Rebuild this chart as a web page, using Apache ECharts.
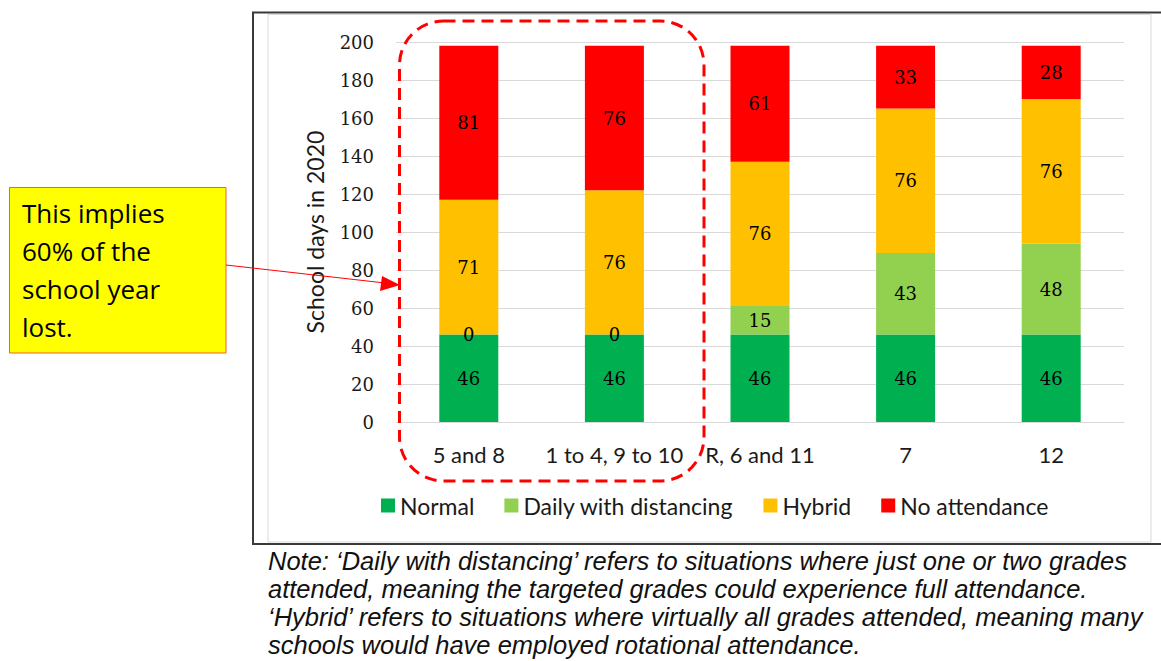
<!DOCTYPE html>
<html>
<head>
<meta charset="utf-8">
<script src="https://cdn.jsdelivr.net/npm/echarts@6/dist/echarts.min.js"></script>
<style>
html,body{margin:0;padding:0;background:#fff;}
#chart{width:1161px;height:661px;}
</style>
</head>
<body>
<div id="chart"></div>
<script>
const categories = ['5 and 8', '1 to 4, 9 to 10', 'R, 6 and 11', '7', '12'];
const normal = [46, 46, 46, 46, 46];
const dailyDistancing = [0, 0, 15, 43, 48];
const hybrid = [71, 76, 76, 76, 76];
const noAttendance = [81, 76, 61, 33, 28];
const seriesNames = ['Normal', 'Daily with distancing', 'Hybrid', 'No attendance'];
const seriesColors = ['#00B050', '#92D050', '#FFC000', '#FF0000'];
const yTicks = {min: 0, max: 200, interval: 20};
const axisTitle = 'School days in 2020';
const calloutLines = ['This implies', '60% of the', 'school year', 'lost.'];
const noteLines = [
  'Note: \u2018Daily with distancing\u2019 refers to situations where just one or two grades',
  'attended, meaning the targeted grades could experience full attendance.',
  '\u2018Hybrid\u2019 refers to situations where virtually all grades attended, meaning many',
  'schools would have employed rotational attendance.'
];

const sans = 'Lato, "Open Sans", sans-serif';
const serif = '"DejaVu Serif", serif';
const chart = echarts.init(document.getElementById('chart'), null, {renderer: 'svg'});

const values = [normal, dailyDistancing, hybrid, noAttendance];
const series = seriesNames.map((name, i) => ({
  name: name,
  type: 'bar',
  stack: 'days',
  barWidth: 59,
  data: values[i],
  itemStyle: {color: seriesColors[i]},
  label: {
    show: true,
    position: 'inside',
    color: '#000',
    fontFamily: serif,
    fontSize: 18
  }
}));

const graphic = [
  {type: 'rect', shape: {x: 253, y: 12.5, width: 930, height: 531.5},
   style: {fill: 'none', stroke: '#3a3a3a', lineWidth: 2}, z: 0, silent: true},
  {type: 'rect', shape: {x: 268, y: 14.5, width: 883, height: 527.5},
   style: {fill: 'none', stroke: '#d9d9d9', lineWidth: 1}, z: 0, silent: true},
  {type: 'rect', shape: {x: 399.5, y: 21, width: 304.5, height: 460, r: 44},
   style: {fill: 'none', stroke: '#FF0000', lineWidth: 3, lineDash: [12, 7]}, z: 10, silent: true},
  {type: 'rect', shape: {x: 9.5, y: 187.5, width: 216.5, height: 165.5},
   style: {fill: '#FFFF00', stroke: '#F0603A', lineWidth: 1}, z: 10, silent: true},
  {type: 'line', shape: {x1: 226, y1: 265, x2: 385, y2: 283},
   style: {stroke: '#FF0000', lineWidth: 1}, z: 10, silent: true},
  {type: 'polygon', shape: {points: [[400, 285], [382, 276], [380, 291]]},
   style: {fill: '#FF0000'}, z: 10, silent: true}
];
calloutLines.forEach((t, i) => {
  graphic.push({type: 'text', z: 11, silent: true,
    style: {x: 22, y: 213 + i * 38, verticalAlign: 'middle', text: t,
            font: '26px "Open Sans", sans-serif', fill: '#000'}});
});
noteLines.forEach((t, i) => {
  graphic.push({type: 'text', z: 11, silent: true,
    style: {x: 268, y: 561 + i * 28, verticalAlign: 'middle', text: t,
            font: 'italic 25.5px "Liberation Sans", Arial, sans-serif', fill: '#111'}});
});

chart.setOption({
  animation: false,
  backgroundColor: '#fff',
  grid: {left: 396, right: 37, top: 42, bottom: 239, containLabel: false},
  legend: {
    data: seriesNames,
    left: 381,
    top: 494,
    padding: 0,
    icon: 'rect',
    itemWidth: 14,
    itemHeight: 14,
    itemGap: 30,
    textStyle: {fontFamily: sans, fontSize: 23, color: '#1a1a1a'}
  },
  xAxis: {
    type: 'category',
    data: categories,
    axisLine: {lineStyle: {color: '#d9d9d9', width: 1}},
    axisTick: {show: false},
    axisLabel: {fontFamily: sans, fontSize: 22, color: '#1a1a1a', margin: 21, interval: 0}
  },
  yAxis: {
    type: 'value',
    min: yTicks.min,
    max: yTicks.max,
    interval: yTicks.interval,
    name: axisTitle,
    nameLocation: 'middle',
    nameGap: 70,
    nameRotate: 90,
    nameTextStyle: {fontFamily: sans, fontSize: 23, color: '#1a1a1a'},
    axisLine: {show: false},
    axisTick: {show: false},
    axisLabel: {fontFamily: serif, fontSize: 18, color: '#1a1a1a', margin: 22},
    splitLine: {lineStyle: {color: '#d9d9d9', width: 1}}
  },
  series: series,
  graphic: graphic
});
</script>
</body>
</html>
